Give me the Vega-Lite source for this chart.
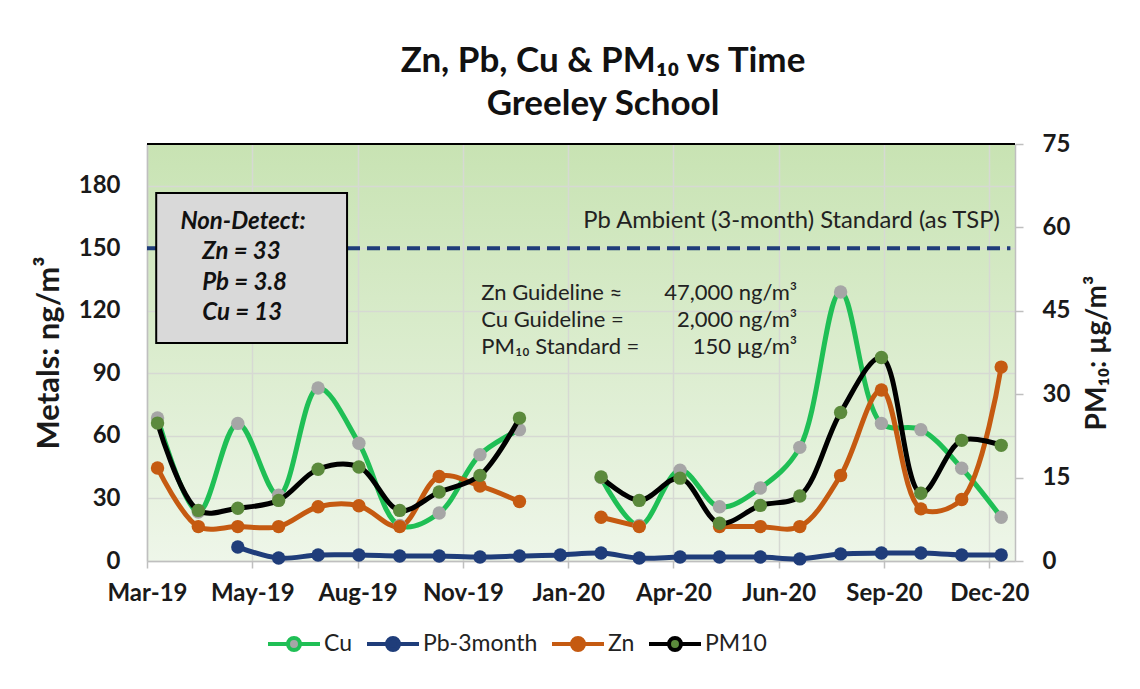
{
"$schema":"https://vega.github.io/schema/vega-lite/v6.json",
"width":868,"height":417,
"autosize":{"type":"none"},
"padding":{"left":147,"top":144,"right":125,"bottom":128},
"background":"#ffffff",
"config":{
 "font":"Lato",
 "view":{"stroke":null,"fill":{"gradient":"linear","x1":0,"y1":0,"x2":0,"y2":1,"stops":[{"offset":0,"color":"#c8e3b3"},{"offset":1,"color":"#eef6e9"}]}},
 "axis":{"labelFont":"Lato","titleFont":"Lato","labelFontWeight":"bold","labelFontSize":24,"labelColor":"#1a1a1a","titleColor":"#1a1a1a","domainColor":"#bfbfbf","domainWidth":1.5,"tickColor":"#bfbfbf","tickWidth":1.5,"gridColor":"#d6d9d3","gridWidth":1.5,"gridOpacity":1},
 "text":{"font":"Lato"}
},
"title":{"text":["Zn, Pb, Cu & PM₁₀ vs Time","Greeley School"],"fontSize":35,"fontWeight":"bold","font":"Lato","color":"#111111","lineHeight":43,"anchor":"middle","dx":22,"offset":10},
"datasets":{
 "d":[
  {"date":"2019-03-15","series":"Cu","value":68.6},
  {"date":"2019-04-15","series":"Cu","value":23.5},
  {"date":"2019-05-15","series":"Cu","value":66},
  {"date":"2019-06-15","series":"Cu","value":31.5},
  {"date":"2019-07-15","series":"Cu","value":83},
  {"date":"2019-08-15","series":"Cu","value":56.5},
  {"date":"2019-09-15","series":"Cu","value":17},
  {"date":"2019-10-15","series":"Cu","value":23},
  {"date":"2019-11-15","series":"Cu","value":51},
  {"date":"2019-12-15","series":"Cu","value":63},
  {"date":"2020-01-15","series":"Cu","value":null},
  {"date":"2020-02-15","series":"Cu","value":40},
  {"date":"2020-03-15","series":"Cu","value":17},
  {"date":"2020-04-15","series":"Cu","value":43.5},
  {"date":"2020-05-15","series":"Cu","value":26},
  {"date":"2020-06-15","series":"Cu","value":35},
  {"date":"2020-07-15","series":"Cu","value":54.5},
  {"date":"2020-08-15","series":"Cu","value":129},
  {"date":"2020-09-15","series":"Cu","value":66},
  {"date":"2020-10-15","series":"Cu","value":63},
  {"date":"2020-11-15","series":"Cu","value":44.5},
  {"date":"2020-12-15","series":"Cu","value":21},
  {"date":"2019-05-15","series":"Pb-3month","value":6.7},
  {"date":"2019-06-15","series":"Pb-3month","value":1.4},
  {"date":"2019-07-15","series":"Pb-3month","value":2.9},
  {"date":"2019-08-15","series":"Pb-3month","value":2.9},
  {"date":"2019-09-15","series":"Pb-3month","value":2.4},
  {"date":"2019-10-15","series":"Pb-3month","value":2.4},
  {"date":"2019-11-15","series":"Pb-3month","value":1.9},
  {"date":"2019-12-15","series":"Pb-3month","value":2.4},
  {"date":"2020-01-15","series":"Pb-3month","value":2.9},
  {"date":"2020-02-15","series":"Pb-3month","value":3.8},
  {"date":"2020-03-15","series":"Pb-3month","value":1.4},
  {"date":"2020-04-15","series":"Pb-3month","value":1.9},
  {"date":"2020-05-15","series":"Pb-3month","value":1.9},
  {"date":"2020-06-15","series":"Pb-3month","value":1.9},
  {"date":"2020-07-15","series":"Pb-3month","value":1.0},
  {"date":"2020-08-15","series":"Pb-3month","value":3.4},
  {"date":"2020-09-15","series":"Pb-3month","value":3.8},
  {"date":"2020-10-15","series":"Pb-3month","value":3.8},
  {"date":"2020-11-15","series":"Pb-3month","value":2.9},
  {"date":"2020-12-15","series":"Pb-3month","value":2.9},
  {"date":"2019-03-15","series":"Zn","value":44.6},
  {"date":"2019-04-15","series":"Zn","value":16.5},
  {"date":"2019-05-15","series":"Zn","value":16.5},
  {"date":"2019-06-15","series":"Zn","value":16.5},
  {"date":"2019-07-15","series":"Zn","value":26},
  {"date":"2019-08-15","series":"Zn","value":26.5},
  {"date":"2019-09-15","series":"Zn","value":16.5},
  {"date":"2019-10-15","series":"Zn","value":40.5},
  {"date":"2019-11-15","series":"Zn","value":36},
  {"date":"2019-12-15","series":"Zn","value":28.5},
  {"date":"2020-01-15","series":"Zn","value":null},
  {"date":"2020-02-15","series":"Zn","value":21},
  {"date":"2020-03-15","series":"Zn","value":16.5},
  {"date":"2020-04-15","series":"Zn","value":null},
  {"date":"2020-05-15","series":"Zn","value":16.5},
  {"date":"2020-06-15","series":"Zn","value":16.5},
  {"date":"2020-07-15","series":"Zn","value":16.5},
  {"date":"2020-08-15","series":"Zn","value":41},
  {"date":"2020-09-15","series":"Zn","value":82},
  {"date":"2020-10-15","series":"Zn","value":25},
  {"date":"2020-11-15","series":"Zn","value":29.5},
  {"date":"2020-12-15","series":"Zn","value":93},
  {"date":"2019-03-15","series":"PM10","value":24.8},
  {"date":"2019-04-15","series":"PM10","value":9.1},
  {"date":"2019-05-15","series":"PM10","value":9.5},
  {"date":"2019-06-15","series":"PM10","value":10.9},
  {"date":"2019-07-15","series":"PM10","value":16.5},
  {"date":"2019-08-15","series":"PM10","value":16.9},
  {"date":"2019-09-15","series":"PM10","value":9.1},
  {"date":"2019-10-15","series":"PM10","value":12.4},
  {"date":"2019-11-15","series":"PM10","value":15.4},
  {"date":"2019-12-15","series":"PM10","value":25.7},
  {"date":"2020-01-15","series":"PM10","value":null},
  {"date":"2020-02-15","series":"PM10","value":15.1},
  {"date":"2020-03-15","series":"PM10","value":10.9},
  {"date":"2020-04-15","series":"PM10","value":14.9},
  {"date":"2020-05-15","series":"PM10","value":6.8},
  {"date":"2020-06-15","series":"PM10","value":10.0},
  {"date":"2020-07-15","series":"PM10","value":11.7},
  {"date":"2020-08-15","series":"PM10","value":26.7},
  {"date":"2020-09-15","series":"PM10","value":36.6},
  {"date":"2020-10-15","series":"PM10","value":12.2},
  {"date":"2020-11-15","series":"PM10","value":21.7},
  {"date":"2020-12-15","series":"PM10","value":20.8}
 ],
 "top":[{"date":"2019-03-07","date2":"2020-12-25T12:00:00Z","value":200}],
 "std":[{"date":"2019-03-07","date2":"2020-12-22","value":150}],
 "box":[{"date":"2019-03-14","date2":"2019-08-06","value":176.5,"value2":104.5}],
 "ndt":[{"date":"2019-05-19","value":162.7,"t":"Non-Detect:"}],
 "ndl":[
  {"date":"2019-04-18","value":148.3,"t":"Zn = 33"},
  {"date":"2019-04-18","value":133.4,"t":"Pb = 3.8"},
  {"date":"2019-04-18","value":119,"t":"Cu = 13"}
 ],
 "pbt":[{"date":"2020-12-14","value":163.2,"t":"Pb Ambient (3-month) Standard (as TSP)"}],
 "gl":[
  {"date":"2019-11-16","value":128.6,"t":"Zn Guideline ≈"},
  {"date":"2019-11-16","value":115.6,"t":"Cu Guideline ="},
  {"date":"2019-11-16","value":102.6,"t":"PM₁₀ Standard ="}
 ],
 "gv":[
  {"date":"2020-07-13","value":128.6,"t":"47,000 ng/m³"},
  {"date":"2020-07-13","value":115.6,"t":"2,000 ng/m³"},
  {"date":"2020-07-13","value":102.6,"t":"150 µg/m³"}
 ]
},
"encoding":{
 "x":{"field":"date","type":"temporal","scale":{"type":"utc","domain":[{"year":2019,"month":3,"date":7,"utc":true},{"year":2020,"month":12,"date":25,"hours":12,"utc":true}]},
  "axis":{"values":[{"year":2019,"month":3,"date":7,"utc":true},{"year":2019,"month":5,"date":26,"utc":true},{"year":2019,"month":8,"date":14,"utc":true},{"year":2019,"month":11,"date":2,"utc":true},{"year":2020,"month":1,"date":21,"utc":true},{"year":2020,"month":4,"date":10,"utc":true},{"year":2020,"month":6,"date":29,"utc":true},{"year":2020,"month":9,"date":17,"utc":true},{"year":2020,"month":12,"date":6,"utc":true}],
   "labelExpr":"utcFormat(datum.value,'%b-%y')","title":null,"grid":true,"ticks":true,"tickSize":7,"labelPadding":13,"labelFlush":false,"labelBound":false,"labelOverlap":false,"domain":true}}
},
"layer":[
 {
  "encoding":{
   "y":{"field":"value","type":"quantitative","scale":{"domain":[0,200],"nice":false},
    "axis":{"values":[0,30,60,90,120,150,180],"title":"Metals:  ng/m³","titleFontSize":31,"titleFontWeight":"bold","titlePadding":13,"ticks":false,"tickSize":0,"labelPadding":27,"grid":true,"domain":true}}
  },
  "layer":[
   {"data":{"name":"top"},"mark":{"type":"rule","color":"#000000","strokeWidth":2},"encoding":{"x2":{"field":"date2"}}},
   {"data":{"name":"std"},"mark":{"type":"rule","color":"#1f3d7a","strokeWidth":4,"strokeDash":[13,7]},"encoding":{"x2":{"field":"date2"}}},
   {"data":{"name":"box"},"mark":{"type":"rect","fill":"#d9d9d9","stroke":"#000000","strokeWidth":2},"encoding":{"x2":{"field":"date2"},"y2":{"field":"value2"}}},
   {"data":{"name":"ndt"},"mark":{"type":"text","fontSize":24,"fontWeight":"bold","fontStyle":"italic","align":"center","baseline":"middle","color":"#111111"},"encoding":{"text":{"field":"t"}}},
   {"data":{"name":"ndl"},"mark":{"type":"text","fontSize":24,"fontWeight":"bold","fontStyle":"italic","align":"left","baseline":"middle","color":"#111111"},"encoding":{"text":{"field":"t"}}},
   {"data":{"name":"pbt"},"mark":{"type":"text","fontSize":23.8,"align":"right","baseline":"middle","color":"#222222"},"encoding":{"text":{"field":"t"}}},
   {"data":{"name":"gl"},"mark":{"type":"text","fontSize":22,"align":"left","baseline":"middle","color":"#222222"},"encoding":{"text":{"field":"t"}}},
   {"data":{"name":"gv"},"mark":{"type":"text","fontSize":22,"align":"right","baseline":"middle","color":"#222222"},"encoding":{"text":{"field":"t"}}},
   {"data":{"name":"d"},"transform":[{"filter":"datum.series !== 'PM10'"}],
    "mark":{"type":"line","interpolate":"catmull-rom","strokeWidth":5,"invalid":"break-paths-filter-domains"},
    "encoding":{"stroke":{"field":"series","type":"nominal","scale":{"domain":["Cu","Pb-3month","Zn","PM10"],"range":["#1fbf55","#1f3d7a","#c55a11","#000000"]},
     "legend":{"title":null,"orient":"none","legendX":119,"legendY":472,"direction":"horizontal","symbolType":"M-1,0H-0.23M0.23,0H1M0.23,0A0.23,0.23,0,1,1,-0.23,0A0.23,0.23,0,1,1,0.23,0","symbolSize":2704,"symbolStrokeWidth":4,"labelFontSize":23,"labelFont":"Lato","labelColor":"#222222","labelOffset":2,"columnPadding":6}}}},
   {"data":{"name":"d"},"transform":[{"filter":"datum.series !== 'PM10' && datum.value != null"}],
    "mark":{"type":"point","filled":true,"size":180,"opacity":1},
    "encoding":{"fill":{"field":"series","type":"nominal","scale":{"domain":["Cu","Pb-3month","Zn","PM10"],"range":["#a6a6a6","#1f3d7a","#c55a11","#5b8a3c"]},
     "legend":{"title":null,"orient":"none","legendX":119,"legendY":472,"direction":"horizontal","symbolType":"M-1,0H-0.23M0.23,0H1M0.23,0A0.23,0.23,0,1,1,-0.23,0A0.23,0.23,0,1,1,0.23,0","symbolSize":2704,"symbolStrokeWidth":4,"labelFontSize":23,"labelFont":"Lato","labelColor":"#222222","labelOffset":2,"columnPadding":6}}}}
  ]
 },
 {
  "data":{"name":"d"},
  "transform":[{"filter":"datum.series === 'PM10'"}],
  "encoding":{
   "y":{"field":"value","type":"quantitative","scale":{"domain":[0,75],"nice":false},
    "axis":{"orient":"right","values":[0,15,30,45,60,75],"title":"PM₁₀:  µg/m³","titleFontSize":28,"titleFontWeight":"bold","titleAngle":270,"titleBaseline":"top","titlePadding":14,"grid":false,"ticks":true,"tickSize":8,"labelPadding":19,"domain":true}}
  },
  "layer":[
   {"mark":{"type":"line","interpolate":"catmull-rom","strokeWidth":5,"invalid":"break-paths-filter-domains"},
    "encoding":{"stroke":{"field":"series","type":"nominal","scale":{"domain":["Cu","Pb-3month","Zn","PM10"],"range":["#1fbf55","#1f3d7a","#c55a11","#000000"]},
     "legend":{"title":null,"orient":"none","legendX":119,"legendY":472,"direction":"horizontal","symbolType":"M-1,0H-0.23M0.23,0H1M0.23,0A0.23,0.23,0,1,1,-0.23,0A0.23,0.23,0,1,1,0.23,0","symbolSize":2704,"symbolStrokeWidth":4,"labelFontSize":23,"labelFont":"Lato","labelColor":"#222222","labelOffset":2,"columnPadding":6}}}},
   {"transform":[{"filter":"datum.value != null"}],
    "mark":{"type":"point","filled":true,"size":180,"opacity":1},
    "encoding":{"fill":{"field":"series","type":"nominal","scale":{"domain":["Cu","Pb-3month","Zn","PM10"],"range":["#a6a6a6","#1f3d7a","#c55a11","#5b8a3c"]},
     "legend":{"title":null,"orient":"none","legendX":119,"legendY":472,"direction":"horizontal","symbolType":"M-1,0H-0.23M0.23,0H1M0.23,0A0.23,0.23,0,1,1,-0.23,0A0.23,0.23,0,1,1,0.23,0","symbolSize":2704,"symbolStrokeWidth":4,"labelFontSize":23,"labelFont":"Lato","labelColor":"#222222","labelOffset":2,"columnPadding":6}}}}
  ]
 }
],
"resolve":{"scale":{"y":"independent"}}
}
